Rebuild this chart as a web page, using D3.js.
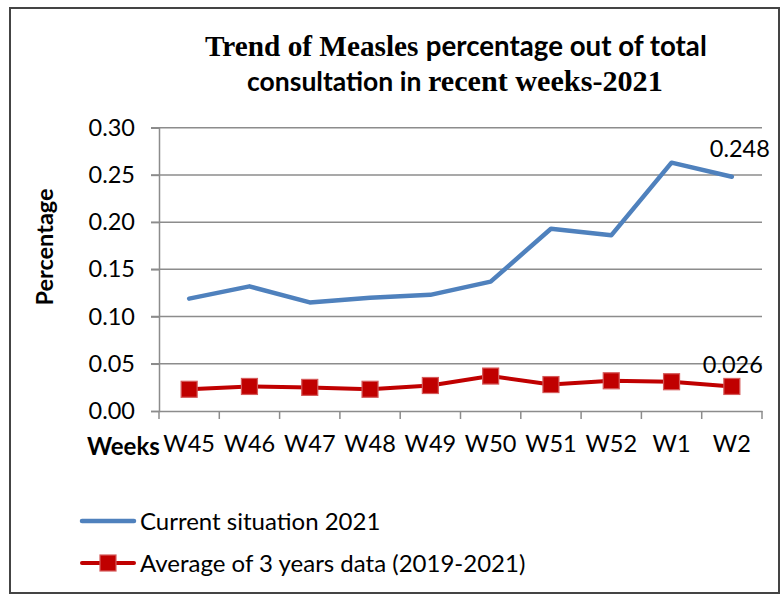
<!DOCTYPE html>
<html><head><meta charset="utf-8">
<script src="https://cdn.jsdelivr.net/npm/d3@7"></script>
<style>html,body{margin:0;padding:0;background:#fff;}</style>
</head><body>
<svg id="chart" width="781" height="595"></svg>
<script>
const categories = ["W45","W46","W47","W48","W49","W50","W51","W52","W1","W2"];
const currentValues = [0.119,0.132,0.115,0.120,0.123,0.137,0.193,0.186,0.263,0.248];
const averageValues = [0.023,0.026,0.025,0.023,0.027,0.037,0.028,0.032,0.031,0.026];
const yTicks = [0,0.05,0.10,0.15,0.20,0.25,0.30];
const seriesNames = ["Current situation 2021","Average of 3 years data (2019-2021)"];

const svg = d3.select("#chart");
const SANS = "Lato, 'Open Sans', sans-serif";
const SERIF = "'Liberation Serif', 'DejaVu Serif', serif";

// frame
svg.append("rect").attr("x",10).attr("y",8).attr("width",769).attr("height",585)
  .attr("fill","#fff").attr("stroke","#444").attr("stroke-width",2);

// title (mixed fonts)
function fitSpan(t, target){ const w=t.node().getComputedTextLength(); const fs=parseFloat(t.attr("font-size")); t.attr("font-size", fs*target/w); }
const title = svg.append("g");
const l1 = title.append("text").attr("y",56).attr("font-weight","bold").attr("fill","#000");
const a1 = l1.append("tspan").attr("x",205).attr("font-family",SERIF).attr("font-size",30).text("Trend of Measles ");
const b1 = l1.append("tspan").attr("font-family",SANS).attr("font-size",27).text("percentage out of total");
fitSpan(a1,221); fitSpan(b1,281);
const l2 = title.append("text").attr("y",91).attr("font-weight","bold").attr("fill","#000");
const a2 = l2.append("tspan").attr("x",247).attr("font-family",SANS).attr("font-size",27).text("consultation in ");
const b2 = l2.append("tspan").attr("font-family",SERIF).attr("font-size",30).text("recent weeks-2021");
fitSpan(a2,181); fitSpan(b2,235);

// scales
const x = d3.scaleBand().domain(categories).range([159,762]).padding(0);
const y = d3.scaleLinear().domain([0,0.30]).range([411,127.7]);
const gridColor = "#8c8c8c";

// gridlines
svg.append("g").selectAll("line").data(yTicks.slice(1)).join("line")
  .attr("x1",151).attr("x2",762).attr("y1",d=>y(d)).attr("y2",d=>y(d))
  .attr("stroke",gridColor).attr("stroke-width",1.5);

// y axis
const yAxis = svg.append("g").attr("transform","translate(159,0)")
  .call(d3.axisLeft(y).tickValues(yTicks).tickFormat(d3.format(".2f")).tickSize(8).tickPadding(16));
yAxis.select(".domain").attr("stroke",gridColor).attr("stroke-width",1.5);
yAxis.selectAll(".tick line").attr("stroke",gridColor).attr("stroke-width",1.5);
yAxis.selectAll(".tick text").attr("font-family",SANS).attr("font-size",23.5).attr("fill","#000");

// x axis
const xAxis = svg.append("g").attr("transform","translate(0,411)")
  .call(d3.axisBottom(x).tickSize(0).tickPadding(24));
xAxis.select(".domain").attr("stroke",gridColor).attr("stroke-width",1.5);
xAxis.selectAll(".tick text").attr("font-family",SANS).attr("font-size",23.5).attr("fill","#000");
const bounds = categories.map(c=>x(c)).concat([x(categories[categories.length-1])+x.bandwidth()]);
xAxis.selectAll(".bt").data(bounds).join("line").attr("class","bt")
  .attr("x1",d=>d).attr("x2",d=>d).attr("y1",0).attr("y2",8)
  .attr("stroke",gridColor).attr("stroke-width",1.5);

svg.append("text").attr("x",87).attr("y",455).attr("font-family",SANS).attr("font-weight","bold")
  .attr("font-size",24).attr("fill","#000").text("Weeks");

svg.append("text").attr("transform","translate(53,247) rotate(-90)").attr("text-anchor","middle")
  .attr("font-family",SANS).attr("font-weight","bold").attr("font-size",23.5).attr("fill","#000").text("Percentage");

const cx = d => x(d)+x.bandwidth()/2;
const line = d3.line().x(d=>cx(d.c)).y(d=>y(d.v));
const cur = categories.map((c,i)=>({c,v:currentValues[i]}));
const avg = categories.map((c,i)=>({c,v:averageValues[i]}));
const BLUE = "#4F81BD", RED = "#C00000";

svg.append("path").datum(cur).attr("d",line).attr("fill","none").attr("stroke",BLUE)
  .attr("stroke-width",4.5).attr("stroke-linejoin","round").attr("stroke-linecap","round");
svg.append("path").datum(avg).attr("d",line).attr("fill","none").attr("stroke",RED)
  .attr("stroke-width",4).attr("stroke-linejoin","round").attr("stroke-linecap","round");
svg.append("g").selectAll("rect").data(avg).join("rect")
  .attr("x",d=>cx(d.c)-8).attr("y",d=>y(d.v)-8).attr("width",16).attr("height",16)
  .attr("fill",RED).attr("stroke","#D55A5A").attr("stroke-width",1.2);

// data labels on last point
const lastC = cur[cur.length-1], lastA = avg[avg.length-1];
svg.append("text").attr("x",cx(lastC.c)+8).attr("y",y(lastC.v)-20).attr("text-anchor","middle")
  .attr("font-family",SANS).attr("font-size",23.5).attr("fill","#000").text(d3.format(".3f")(lastC.v));
svg.append("text").attr("x",cx(lastA.c)+1).attr("y",y(lastA.v)-13).attr("text-anchor","middle")
  .attr("font-family",SANS).attr("font-size",23.5).attr("fill","#000").text(d3.format(".3f")(lastA.v));

// legend
const lg = svg.append("g");
lg.append("line").attr("x1",82).attr("x2",134).attr("y1",521).attr("y2",521)
  .attr("stroke",BLUE).attr("stroke-width",4.5).attr("stroke-linecap","round");
lg.append("text").attr("x",140).attr("y",529.5).attr("font-family",SANS).attr("font-size",24).attr("fill","#000").text(seriesNames[0]);
lg.append("line").attr("x1",82).attr("x2",134).attr("y1",563).attr("y2",563)
  .attr("stroke",RED).attr("stroke-width",4).attr("stroke-linecap","round");
lg.append("rect").attr("x",100).attr("y",555).attr("width",16).attr("height",16)
  .attr("fill",RED).attr("stroke","#D55A5A").attr("stroke-width",1.2);
lg.append("text").attr("x",140).attr("y",571.5).attr("font-family",SANS).attr("font-size",24).attr("fill","#000").text(seriesNames[1]);
</script>
</body></html>
